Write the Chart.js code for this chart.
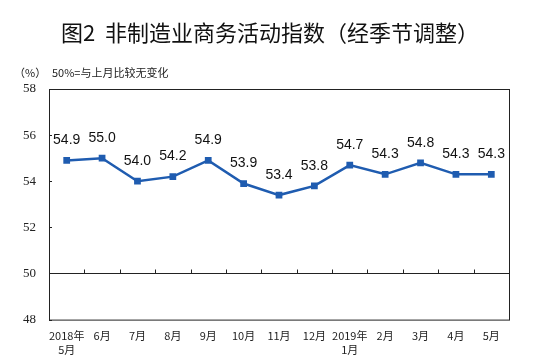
<!DOCTYPE html>
<html>
<head>
<meta charset="utf-8">
<script src="https://cdn.jsdelivr.net/npm/chart.js@4/dist/chart.umd.min.js"></script>
<style>
  body { margin: 0; background: #fff; }
  #wrap { position: relative; width: 554px; height: 361px; }
  #title { position: absolute; left: 0; width: 540px; top: 15px; text-align: center;
    font-family: "Noto Sans CJK SC"; font-size: 22px; font-weight: 400; color: #111; }
  #unit { position: absolute; left: 14px; top: 64px; font-family: "Noto Sans CJK SC"; font-size: 11px; color: #222; }
  #note { position: absolute; left: 52px; top: 64px; font-family: "Noto Sans CJK SC"; font-size: 11px; color: #222; }
  canvas { position: absolute; left: 0; top: 0; }
</style>
</head>
<body>
<div id="wrap">
  <canvas id="pmiChart" width="554" height="361"></canvas>
  <div id="title">图2&nbsp;&nbsp;非制造业商务活动指数（经季节调整）</div>
  <div id="unit">（%）</div>
  <div id="note">50%=与上月比较无变化</div>
</div>
<script>
const months = [['2018年', '5月'], '6月', '7月', '8月', '9月', '10月', '11月', '12月', ['2019年', '1月'], '2月', '3月', '4月', '5月'];
const indexValues = [54.9, 55.0, 54.0, 54.2, 54.9, 53.9, 53.4, 53.8, 54.7, 54.3, 54.8, 54.3, 54.3];
const yTicks = [48, 50, 52, 54, 56, 58];
const baseline = 50;

const ctx = document.getElementById('pmiChart').getContext('2d');

// frame, the 50% line with its ticks, and value labels
const decorations = {
  id: 'decorations',
  afterDatasetsDraw(chart) {
    const { ctx, chartArea: a, scales } = chart;
    const x = scales.x, y = scales.y;
    ctx.save();
    ctx.strokeStyle = '#222';
    ctx.lineWidth = 1;
    ctx.strokeRect(a.left + 0.5, a.top + 0.5, a.right - a.left, a.bottom - a.top);
    const yb = Math.round(y.getPixelForValue(baseline)) + 0.5;
    ctx.beginPath();
    ctx.moveTo(a.left, yb);
    ctx.lineTo(a.right, yb);
    for (let i = 1; i < months.length; i++) {
      const xt = Math.round((x.getPixelForValue(i - 1) + x.getPixelForValue(i)) / 2) + 0.5;
      ctx.moveTo(xt, yb);
      ctx.lineTo(xt, yb - 4);
    }
    yTicks.forEach(v => {
      const yy = Math.round(y.getPixelForValue(v)) + 0.5;
      ctx.moveTo(a.left, yy);
      ctx.lineTo(a.left + 3, yy);
    });
    ctx.stroke();

    ctx.fillStyle = '#111';
    ctx.font = '14px "Liberation Sans", Arial';
    ctx.textAlign = 'center';
    ctx.textBaseline = 'middle';
    chart.getDatasetMeta(0).data.forEach((pt, i) => {
      ctx.fillText(indexValues[i].toFixed(1), pt.x, pt.y - 20);
    });
    ctx.restore();
  }
};

new Chart(ctx, {
  type: 'line',
  data: {
    labels: months,
    datasets: [{
      data: indexValues,
      borderColor: '#1f5cb0',
      backgroundColor: '#1f5cb0',
      borderWidth: 2.5,
      pointStyle: 'rect',
      pointRadius: 3,
      tension: 0
    }]
  },
  options: {
    responsive: false,
    animation: false,
    layout: { padding: { top: 89, right: 45, left: 10, bottom: 3 } },
    plugins: { legend: { display: false }, tooltip: { enabled: false } },
    scales: {
      x: {
        offset: true,
        grid: { display: false },
        border: { display: false },
        ticks: {
          color: '#222',
          font: { family: '"Noto Sans CJK SC"', size: 11 },
          maxRotation: 0,
          autoSkip: false,
          padding: 2
        }
      },
      y: {
        min: 48,
        max: 58,
        afterBuildTicks: s => { s.ticks = yTicks.map(v => ({ value: v })); },
        afterFit: s => { s.width = 39; },
        grid: { display: false },
        border: { display: false },
        ticks: {
          color: '#222',
          font: { family: '"Liberation Serif", serif', size: 13 },
          padding: 5
        }
      }
    }
  },
  plugins: [decorations]
});
</script>
</body>
</html>
